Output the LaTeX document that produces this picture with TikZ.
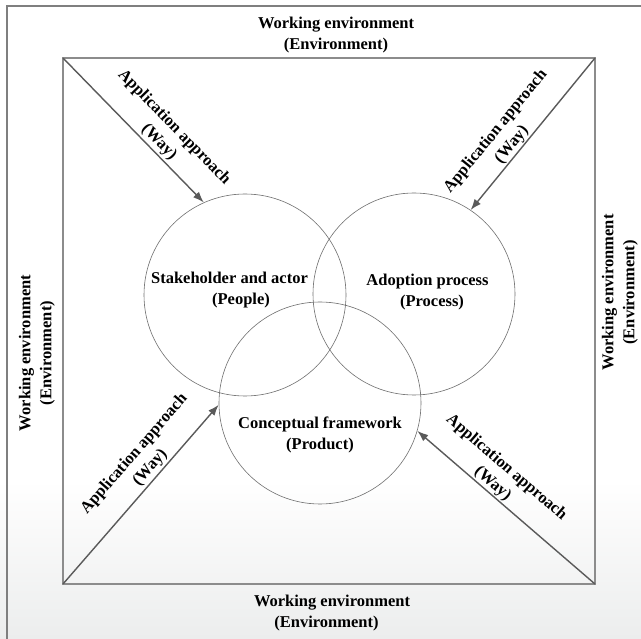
\documentclass[tikz,border=0pt]{standalone}
\usepackage{fontspec}
\setmainfont{Liberation Serif}
\usetikzlibrary{arrows.meta}
\definecolor{framegray}{HTML}{7F7F7F}
\definecolor{boxgray}{HTML}{8C8C8C}
\definecolor{arrowgray}{HTML}{5A5A5A}
\definecolor{circgray}{HTML}{6E6E6E}
\definecolor{bgbottom}{HTML}{ECEDED}
\begin{document}
\begin{tikzpicture}[x=1pt,y=-1pt,
  lbl/.style={font=\fontsize{16.5}{21}\selectfont\bfseries, align=center, text=black, inner sep=1pt},
  venn/.style={circle, draw=circgray, line width=0.6pt, minimum size=202pt, inner sep=0pt},
  way/.style={draw=arrowgray, line width=1.4pt, -{Latex[length=11pt,width=8pt]}},
  waylbl/.style={lbl, sloped}
]
\useasboundingbox (0,0) rectangle (641,639);
\clip (0,0) rectangle (641,639);
\fill[white] (0,0) rectangle (641,480);
\shade[top color=white, bottom color=bgbottom] (0,480) rectangle (641,639);
\draw[framegray, line width=1.5pt] (7,6) rectangle (700,700);

\coordinate (tl) at (63,58);
\coordinate (tr) at (595,58);
\coordinate (bl) at (63,584);
\coordinate (br) at (595,584);
\draw[boxgray, line width=1.2pt] (tl) rectangle (br);

\node[venn] (L) at (245,295) {};
\node[venn] (R) at (414,294) {};
\node[venn] (B) at (320,403) {};

\node[lbl] (peopletxt) at (229.5,290) {Stakeholder and actor\\\hspace*{23pt}(People)};
\node[lbl] (processtxt) at (427.5,292.5) {Adoption process\\\hspace*{9pt}(Process)};
\node[lbl] (producttxt) at (320,434.5) {Conceptual framework\\(Product)};

\node[lbl] (envT) at (336,35.5) {Working environment\\(Environment)};
\node[lbl] (envB) at (332,613) {Working environment\\\hspace*{-11pt}(Environment)};
\node[lbl, rotate=90] (envL) at (37,353) {Working environment\\(Environment)};
\node[lbl, rotate=90] (envR) at (620,292.5) {Working environment\\(Environment)};

\draw[way] (tl) -- (L.114) node[waylbl, above=1pt, pos=0.63] (wayTL) {Application approach\\(Way)};
\draw[way] (tr) -- (R.56) node[waylbl, above=0pt, pos=0.61] (wayTR) {Application approach\\(Way)};
\draw[way] (bl) -- (B.181) node[waylbl, above=1pt, pos=0.61] (wayBL) {Application approach\\(Way)};
\draw[way] (br) -- (B.-16) node[waylbl, above=0pt, pos=0.61] (wayBR) {Application approach\\(Way)};
\end{tikzpicture}
\end{document}
